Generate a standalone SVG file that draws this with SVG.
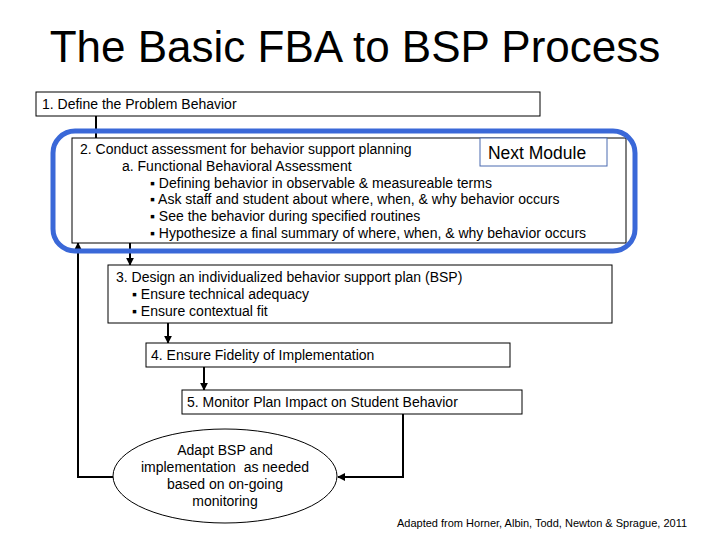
<svg xmlns="http://www.w3.org/2000/svg" width="720" height="540" viewBox="0 0 720 540">
<defs>
<style>
text{font-family:"Liberation Sans",Arial,sans-serif;fill:#000}
.t{font-size:14px}
.box{fill:#fff;stroke:#000;stroke-width:1}
.c{fill:none;stroke:#000;stroke-width:2}
</style>
<marker id="ah" viewBox="0 0 10 10" refX="9" refY="5" markerWidth="4" markerHeight="4" orient="auto" markerUnits="strokeWidth">
<path d="M0,0 L10,5 L0,10 z" fill="#000"/>
</marker>
</defs>
<rect width="720" height="540" fill="#fff"/>
<text x="355" y="62" font-size="44" text-anchor="middle">The Basic FBA to BSP Process</text>

<g id="connectors">
<path class="c" d="M96,116 V138"/>
<path class="c" d="M130,243 V265" marker-end="url(#ah)"/>
<path class="c" d="M168,323 V343" marker-end="url(#ah)"/>
<path class="c" d="M204,367 V390" marker-end="url(#ah)"/>
<path class="c" d="M403,414 V477 H338" marker-end="url(#ah)"/>
<path class="c" d="M113,477 H78 V243" marker-end="url(#ah)"/>
</g>

<g id="n1">
<rect class="box" x="36" y="92" width="504" height="24"/>
<text class="t" x="42" y="109">1. Define the Problem Behavior</text>
</g>

<g id="n2">
<rect class="box" x="72" y="138" width="554" height="105"/>
<text class="t" x="80" y="154">2. Conduct assessment for behavior support planning</text>
<text class="t" x="122" y="171">a. Functional Behavioral Assessment</text>
<text class="t" x="150" y="188">▪ Defining behavior in observable &amp; measureable terms</text>
<text class="t" x="150" y="204">▪ Ask staff and student about where, when, &amp; why behavior occurs</text>
<text class="t" x="150" y="221">▪ See the behavior during specified routines</text>
<text class="t" x="150" y="238">▪ Hypothesize a final summary of where, when, &amp; why behavior occurs</text>
</g>

<g id="module">
<rect x="53" y="131" width="582" height="120" rx="22" fill="none" stroke="#3a68d8" stroke-width="5"/>
<rect x="480" y="138" width="127" height="28" fill="#fff" stroke="#4a6ab0" stroke-width="1"/>
<text x="537" y="159" font-size="17.5" text-anchor="middle">Next Module</text>
</g>

<g id="n3">
<rect class="box" x="108" y="265" width="504" height="58"/>
<text class="t" x="116" y="282">3. Design an individualized behavior support plan (BSP)</text>
<text class="t" x="132" y="299">▪ Ensure technical adequacy</text>
<text class="t" x="132" y="316">▪ Ensure contextual fit</text>
</g>

<g id="n4">
<rect class="box" x="146" y="343" width="364" height="24"/>
<text class="t" x="151" y="360">4. Ensure Fidelity of Implementation</text>
</g>

<g id="n5">
<rect class="box" x="182" y="390" width="340" height="24"/>
<text class="t" x="187" y="407">5. Monitor Plan Impact on Student Behavior</text>
</g>

<g id="n6">
<ellipse cx="225" cy="476" rx="112" ry="47" fill="#fff" stroke="#000" stroke-width="1"/>
<text class="t" x="225" y="455" text-anchor="middle">Adapt BSP and</text>
<text class="t" x="225" y="472" text-anchor="middle" xml:space="preserve">implementation  as needed</text>
<text class="t" x="225" y="489" text-anchor="middle">based on on-going</text>
<text class="t" x="225" y="506" text-anchor="middle">monitoring</text>
</g>

<text x="397" y="527" font-size="11">Adapted from Horner, Albin, Todd, Newton &amp; Sprague, 2011</text>
</svg>
